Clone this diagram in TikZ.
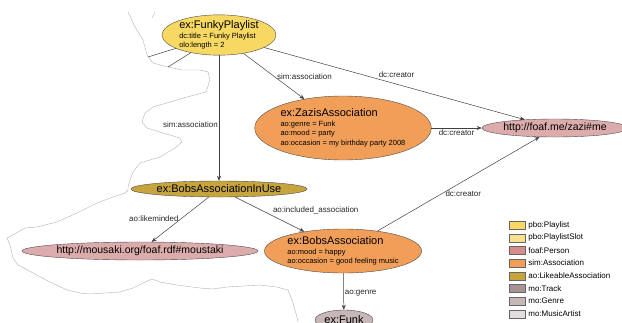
\documentclass[tikz,border=0pt]{standalone}
\usepackage{fontspec}
\setmainfont{Liberation Sans}
\usetikzlibrary{shapes.geometric, arrows.meta}
\definecolor{playlistc}{HTML}{F7D862}
\definecolor{slotc}{HTML}{F6E28E}
\definecolor{personc}{HTML}{D78B8B}
\definecolor{personn}{HTML}{DCACAC}
\definecolor{assocc}{HTML}{F19E58}
\definecolor{likeablec}{HTML}{C6A43E}
\definecolor{trackc}{HTML}{A89292}
\definecolor{genrec}{HTML}{C7B7B7}
\definecolor{artistc}{HTML}{E3DCDC}
\newcommand{\restitle}[1]{{\fontsize{11}{11}\selectfont #1}}

\begin{document}
\begin{tikzpicture}[x=1pt, y=-1pt,
	res/.style={ellipse, draw=black!70, line width=0.4pt, inner sep=0pt, align=left,
		font=\fontsize{7.5}{9.5}\selectfont},
	uri/.style={res, font=\fontsize{10.5}{12}\selectfont},
	rel/.style={draw=black!75, line width=0.5pt, -{Stealth[length=5pt, width=4pt]}},
	lbl/.style={font=\fontsize{8}{9}\selectfont, text=black!85, inner sep=1pt},
	tear/.style={draw=black!30, line width=0.4pt},
	legbox/.style={draw=black!60, line width=0.4pt, minimum width=16pt, minimum height=8pt, inner sep=0pt},
	legtxt/.style={font=\fontsize{8}{9}\selectfont, inner sep=0pt, anchor=west, xshift=3pt}]
	\useasboundingbox (0,0) rectangle (622,322);
	\clip (0,0) rectangle (622,322);
	
	% torn edge of the cut-out
	\draw[tear] (128,12) -- (135,27) -- (143,40) -- (147,55) -- (153,63) -- (168,67)
		-- (182,70) -- (200,70) -- (208,72) -- (210,80) -- (206,92) -- (187,97)
		-- (170,102) -- (153,107) -- (145,113) -- (142,122) -- (147,128) -- (163,133)
		-- (180,138) -- (182,142) -- (175,148) -- (160,157) -- (140,163) -- (133,172)
		-- (130,180) -- (128,187) -- (128,190) -- (125,193) -- (113,197) -- (97,203)
		-- (77,213) -- (57,222) -- (37,227) -- (25,228) -- (18,232) -- (7,238)
		-- (10,245) -- (13,258) -- (18,265) -- (33,273) -- (50,282) -- (67,290)
		-- (80,293) -- (90,294) -- (120,292) -- (133,288) -- (143,283) -- (152,279)
		-- (160,282) -- (177,285) -- (200,288) -- (213,289) -- (227,287) -- (243,286)
		-- (260,285) -- (277,287) -- (288,290) -- (292,300) -- (297,317) -- (298,322);
	\draw[tear] (155,12) -- (152,18);
	
	% resources
	\node[res, fill=playlistc, minimum width=114pt, minimum height=40pt] (funky) at (219,35)
		{\restitle{ex:FunkyPlaylist}\\ dc:title = Funky Playlist\\ olo:length = 2};
	\node[res, fill=assocc, minimum width=170pt, minimum height=64pt] (zazis) at (343,128)
		{\restitle{ex:ZazisAssociation}\\ ao:genre = Funk\\ ao:mood = party\\ ao:occasion = my birthday party 2008};
	\node[uri, fill=personn, minimum width=132pt, minimum height=18pt] (zazime) at (555,128)
		{http://foaf.me/zazi\#me};
	\node[res, fill=likeablec, minimum width=162pt, minimum height=16pt] (inuse) at (219,189)
		{\restitle{ex:BobsAssociationInUse}};
	\node[uri, fill=personn, minimum width=236pt, minimum height=18pt] (moustaki) at (140,251)
		{http://mousaki.org/foaf.rdf\#moustaki};
	\node[res, fill=assocc, minimum width=146pt, minimum height=44pt] (bobs) at (343,251)
		{\restitle{ex:BobsAssociation}\\ ao:mood = happy\\ ao:occasion = good feeling music};
	\node[res, fill=genrec, minimum width=58pt, minimum height=20pt] (funk) at (344,320)
		{\restitle{ex:Funk}};
	
	% cut-off links
	\coordinate (cuta) at (148,57);
	\coordinate (cutb) at (168,67);
	\draw[draw=black!75, line width=0.5pt] (funky) -- (cuta);
	\draw[draw=black!75, line width=0.5pt] (funky) -- (cutb);
	
	% links
	\draw[rel] (funky) -- node[lbl, pos=0.55, anchor=east] {sim:association} (inuse);
	\draw[rel] (funky) -- node[lbl, pos=0.5, anchor=west, inner sep=3pt] {sim:association} (zazis);
	\draw[rel] (funky) -- node[lbl, pos=0.435, anchor=south west] {dc:creator} (zazime);
	\draw[rel] (zazis) -- node[lbl, pos=0.12, anchor=north west] {dc:creator} (zazime);
	\draw[rel] (bobs) -- node[lbl, pos=0.4, anchor=west, inner sep=3pt] {dc:creator} (zazime);
	\draw[rel] (inuse) -- node[lbl, pos=0.47, anchor=east, inner sep=3pt] {ao:likeminded} (moustaki);
	\draw[rel] (inuse) -- node[lbl, pos=0.53, anchor=south west] {ao:included\_association} (bobs);
	\draw[rel] (bobs) -- node[lbl, pos=0.54, anchor=west] {ao:genre} (funk);
	
	% legend
	\foreach \c/\t [count=\i] in {playlistc/pbo:Playlist, slotc/pbo:PlaylistSlot,
		personc/foaf:Person, assocc/sim:Association, likeablec/ao:LikeableAssociation,
		trackc/mo:Track, genrec/mo:Genre, artistc/mo:MusicArtist} {
		\node[legbox, fill=\c] (leg\i) at (517, 212.3+12.7*\i) {};
		\node[legtxt] (legt\i) at (leg\i.east) {\t};
	}
\end{tikzpicture}
\end{document}
